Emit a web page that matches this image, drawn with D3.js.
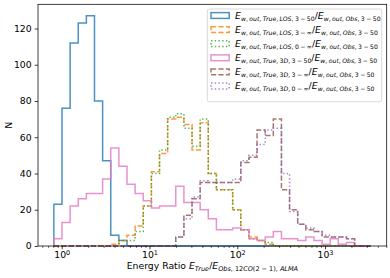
<!DOCTYPE html>
<html>
<head>
<meta charset="utf-8">
<script src="https://cdn.jsdelivr.net/npm/d3@7"></script>
<style>
  body { margin: 0; background: #fff; }
  svg { display: block; }
  text { font-family: "DejaVu Sans", sans-serif; fill: #000; }
</style>
</head>
<body>
<div id="chart"></div>
<script>
//============= DATA =============//
// shared log-spaced histogram bins
const binMin = 0.813, binMax = 3330, nBins = 39;

const countsLOS350  = [23,76,112,123,127,80,47,6,3,0,0,0,0,0,0,0,0,0,0,0,0,0,0,0,0,0,0,0,0,0,0,0,0,0,0,0,0,0,0];
const countsLOS3inf = [0,0,0,0,0,0,0,1,3,6,11,22,41,51,70,71,67,53,68,40,31,31,20,9,5,3,1,0,0,0,0,0,0,0,0,0,0,0,0];
const countsLOS0inf = [0,0,0,0,0,0,0,0,3,3,8,22,40,53,71,73,65,55,70,40,31,31,20,9,4,3,2,0,0,0,0,0,0,0,0,0,0,0,0];
const counts3D350   = [4,13,22,26,29,29,37,54,44,34,29,25,21,22,22,33,24,24,20,15,9,9,10,9,4,3,5,8,4,4,3,5,3,1,4,1,2,0,0];
const counts3D3inf  = [0,0,0,0,0,0,0,0,0,0,0,0,0,0,0,5,17,26,35,35,35,35,35,46,49,64,61,70,31,20,12,9,8,5,5,5,4,0,0];
const counts3D0inf  = [0,0,0,0,0,0,0,0,0,0,0,0,0,0,0,5,15,27,36,35,35,35,37,47,50,56,64,65,40,19,12,10,8,6,5,5,4,0,0];

// legend text: [true-energy subscript, observed-energy subscript]
const legendSubs = [
  ["w, out, True, LOS, 3 \u2212 50", "w, out, Obs, 3 \u2212 50"],
  ["w, out, True, LOS, 3 \u2212 \u221e", "w, out, Obs, 3 \u2212 50"],
  ["w, out, True, LOS, 0 \u2212 \u221e", "w, out, Obs, 3 \u2212 50"],
  ["w, out, True, 3D, 3 \u2212 50", "w, out, Obs, 3 \u2212 50"],
  ["w, out, True, 3D, 3 \u2212 \u221e", "w, out, Obs, 3 \u2212 50"],
  ["w, out, True, 3D, 0 \u2212 \u221e", "w, out, Obs, 3 \u2212 50"]
];

const yTicks = [0, 20, 40, 60, 80, 100, 120];
const xMajor = [1, 10, 100, 1000];
const xMajorExp = ["0", "1", "2", "3"];

const colors = ["#1f77b4", "#ff7f0e", "#2ca02c", "#e377c2", "#8c564b", "#9467bd"];
const dashes = [null, "5.2,2.2", "1.4,2.3", null, "5.2,2.2", "1.4,2.3"];

//============= SETUP =============//
const W = 390, H = 278;
const margin = {top: 4.3, right: 3.3, bottom: 32, left: 38};
const width = W - margin.left - margin.right,
      height = H - margin.top - margin.bottom;
const FS = 9.3;

const series = [countsLOS350, countsLOS3inf, countsLOS0inf, counts3D350, counts3D3inf, counts3D0inf];

const lLo = Math.log10(binMin), lHi = Math.log10(binMax);
const edges = d3.range(nBins + 1).map(i => Math.pow(10, lLo + i * (lHi - lLo) / nBins));

// matplotlib style 5% margins in log space
const pad = 0.05 * (lHi - lLo);
const x = d3.scaleLog()
  .domain([Math.pow(10, lLo - pad), Math.pow(10, lHi + pad)])
  .range([0, width]);
const yMax = d3.max(series, s => d3.max(s)) * 1.05;
const y = d3.scaleLinear().domain([0, yMax]).range([height, 0]);

const svg = d3.select("#chart").append("svg")
  .attr("width", W).attr("height", H);
const g = svg.append("g")
  .attr("transform", "translate(" + margin.left + "," + margin.top + ")");

// mathtext-ish: letters italic, digits / symbols upright
function addRuns(parent, str, size, dy) {
  const runs = str.match(/[A-Za-z]+|[^A-Za-z]+/g);
  runs.forEach((r, i) => {
    const t = parent.append("tspan")
      .style("font-size", size + "px")
      .style("font-style", /[A-Za-z]/.test(r) ? "italic" : "normal")
      .text(r);
    if (i === 0 && dy) t.attr("dy", dy);
  });
}

//============= HISTOGRAMS =============//
const stepLine = counts => {
  const pts = [[x(edges[0]), y(0)]];
  counts.forEach((c, i) => {
    pts.push([x(edges[i]), y(c)]);
    pts.push([x(edges[i + 1]), y(c)]);
  });
  pts.push([x(edges[nBins]), y(0)]);
  return d3.line()(pts);
};

g.selectAll(".hist")
  .data(series)
  .enter().append("path")
  .attr("class", "hist")
  .attr("d", d => stepLine(d))
  .attr("fill", "none")
  .attr("stroke", (d, i) => colors[i])
  .attr("stroke-opacity", 0.8)
  .attr("stroke-width", 1.5)
  .attr("stroke-dasharray", (d, i) => dashes[i]);

//============= AXES =============//
const yAxis = d3.axisLeft(y).tickValues(yTicks).tickSize(3.3).tickPadding(3);
const gy = g.append("g").call(yAxis);
gy.select(".domain").remove();
gy.selectAll(".tick line").attr("stroke-width", 0.75);
gy.selectAll(".tick text").style("font-size", FS + "px").style("font-family", "DejaVu Sans");

const minor = [];
[-1, 0, 1, 2, 3].forEach(k => {
  for (let m = 2; m <= 9; m++) {
    const v = m * Math.pow(10, k);
    if (v > x.domain()[0] && v < x.domain()[1]) minor.push(v);
  }
});
const gxm = g.append("g").attr("transform", "translate(0," + height + ")")
  .call(d3.axisBottom(x).tickValues(minor).tickSize(1.9).tickFormat(""));
gxm.select(".domain").remove();
gxm.selectAll(".tick line").attr("stroke-width", 0.6);

const gx = g.append("g").attr("transform", "translate(0," + height + ")")
  .call(d3.axisBottom(x).tickValues(xMajor).tickSize(3.3).tickFormat(""));
gx.select(".domain").remove();
gx.selectAll(".tick line").attr("stroke-width", 0.75);
gx.selectAll(".tick").each(function(d, i) {
  const t = d3.select(this).append("text")
    .attr("y", 12.3)
    .attr("text-anchor", "middle")
    .style("font-size", FS + "px");
  t.append("tspan").text("10");
  t.append("tspan").attr("dy", -3.8).style("font-size", (FS * 0.7) + "px").text(xMajorExp[i]);
});

// spines
g.append("rect")
  .attr("width", width).attr("height", height)
  .attr("fill", "none").attr("stroke", "#000").attr("stroke-width", 0.75);

// axis labels
const xl = svg.append("text")
  .attr("x", margin.left + width / 2).attr("y", 268.5)
  .attr("text-anchor", "middle")
  .style("font-size", FS + "px");
xl.append("tspan").text("Energy Ratio ");
addRuns(xl, "E", FS, null);
addRuns(xl, "True", FS * 0.7, 2.2);
addRuns(xl, "/", FS, -2.2);
addRuns(xl, "E", FS, null);
addRuns(xl, "Obs, 12CO(2 \u2212 1), ALMA", FS * 0.7, 2.2);

svg.append("text")
  .attr("transform", "translate(11.5," + (margin.top + height / 2) + ") rotate(-90)")
  .attr("text-anchor", "middle")
  .style("font-size", FS + "px")
  .text("N");

//============= LEGEND =============//
const lg = svg.append("g");
lg.append("rect")
  .attr("x", 207.3).attr("y", 9).attr("width", 174.4).attr("height", 92.7)
  .attr("rx", 2).attr("fill", "#fff").attr("fill-opacity", 0.8)
  .attr("stroke", "#ccc").attr("stroke-width", 0.75);

legendSubs.forEach((subs, i) => {
  const cy = 15.5 + i * 14.1;
  lg.append("rect")
    .attr("x", 211).attr("y", cy - 2.9).attr("width", 18.2).attr("height", 5.8)
    .attr("fill", "none")
    .attr("stroke", colors[i]).attr("stroke-opacity", 0.8)
    .attr("stroke-width", 1.5)
    .attr("stroke-dasharray", dashes[i]);
  const t = lg.append("text")
    .attr("x", 235).attr("y", cy + 3)
    .style("word-spacing", "-0.5px");
  addRuns(t, "E", FS, null);
  addRuns(t, subs[0], FS * 0.66, 2.2);
  addRuns(t, "/", FS, -2.2);
  addRuns(t, "E", FS, null);
  addRuns(t, subs[1], FS * 0.66, 2.2);
});
</script>
</body>
</html>
